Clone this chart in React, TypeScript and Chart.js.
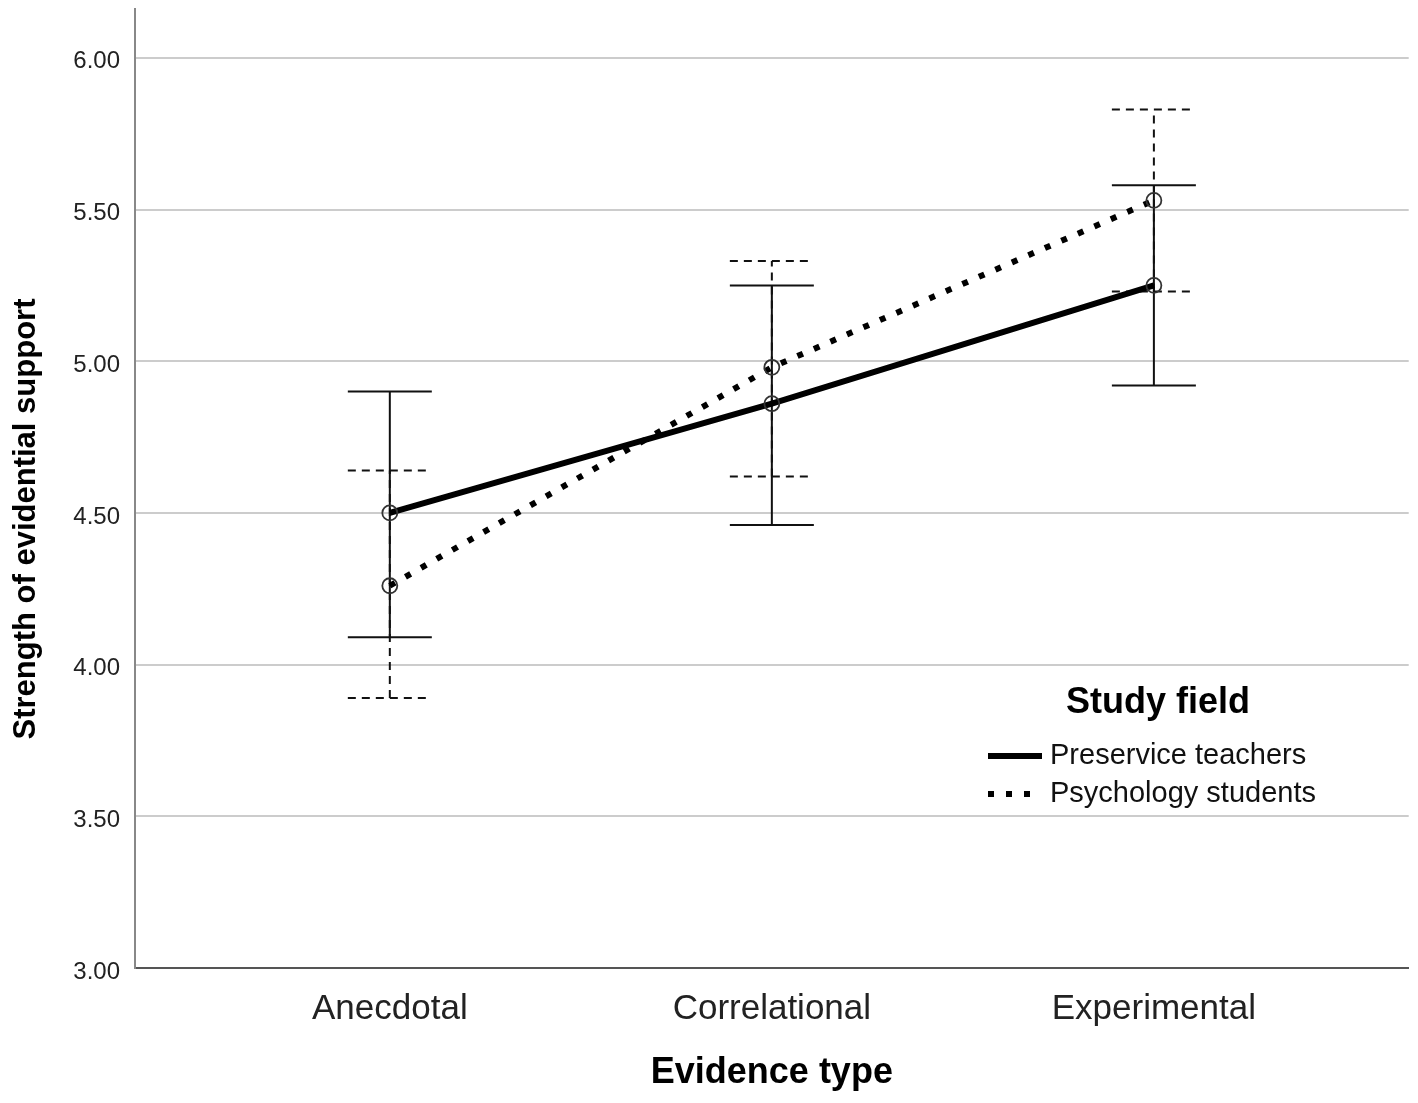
import React, { useEffect, useRef } from "react";
import { Chart, registerables } from "chart.js";

Chart.register(...registerables);

const categories = ["Anecdotal", "Correlational", "Experimental"];
const seriesLabels = ["Preservice teachers", "Psychology students"];
const teacherMeans = [4.5, 4.86, 5.25];
const teacherLower = [4.09, 4.46, 4.92];
const teacherUpper = [4.9, 5.25, 5.58];
const psychMeans = [4.26, 4.98, 5.53];
const psychLower = [3.89, 4.62, 5.23];
const psychUpper = [4.64, 5.33, 5.83];
const yTickValues = [3.0, 3.5, 4.0, 4.5, 5.0, 5.5, 6.0];
const yTitle = "Strength of evidential support";
const xTitle = "Evidence type";
const legendTitle = "Study field";

const FONT = "'Liberation Sans', Arial, sans-serif";

const errorBarPlugin = {
  id: "errorBars",
  beforeDatasetsDraw(chart: any) {
    const { ctx, scales } = chart;
    const xs = scales.x;
    const ys = scales.y;
    chart.data.datasets.forEach((ds: any) => {
      const lo: number[] = ds.ciLower;
      const hi: number[] = ds.ciUpper;
      ctx.save();
      ctx.strokeStyle = "#111";
      ctx.lineWidth = 2;
      ctx.setLineDash(ds.ciDash || []);
      ctx.lineCap = "butt";
      ds.data.forEach((pt: any, i: number) => {
        const x = xs.getPixelForValue(pt.x);
        const yl = ys.getPixelForValue(lo[i]);
        const yh = ys.getPixelForValue(hi[i]);
        const half = 42;
        ctx.beginPath();
        ctx.moveTo(x, yl);
        ctx.lineTo(x, yh);
        ctx.moveTo(x - half, yl);
        ctx.lineTo(x + half, yl);
        ctx.moveTo(x - half, yh);
        ctx.lineTo(x + half, yh);
        ctx.stroke();
      });
      ctx.restore();
    });
  },
};

const extrasPlugin = {
  id: "extras",
  afterDraw(chart: any) {
    const { ctx } = chart;
    ctx.save();
    // y axis title
    ctx.fillStyle = "#000";
    ctx.font = `bold 31px ${FONT}`;
    ctx.textAlign = "center";
    ctx.textBaseline = "middle";
    ctx.translate(26, 519);
    ctx.rotate(-Math.PI / 2);
    ctx.fillText(yTitle, 0, 0);
    ctx.restore();

    // legend
    ctx.save();
    ctx.fillStyle = "#000";
    ctx.font = `bold 36px ${FONT}`;
    ctx.textAlign = "center";
    ctx.textBaseline = "middle";
    ctx.fillText(legendTitle, 1158, 703);
    ctx.font = `29px ${FONT}`;
    ctx.textAlign = "left";
    chart.data.datasets.forEach((ds: any, i: number) => {
      const y = 756 + i * 38;
      ctx.save();
      ctx.strokeStyle = "#000";
      ctx.lineWidth = ds.borderWidth;
      ctx.setLineDash(ds.borderDash || []);
      ctx.beginPath();
      ctx.moveTo(988, y);
      ctx.lineTo(1042, y);
      ctx.stroke();
      ctx.restore();
      ctx.fillStyle = "#111";
      ctx.fillText(ds.label, 1050, y);
    });
    ctx.restore();
  },
};

export default function App() {
  const ref = useRef<HTMLCanvasElement>(null);
  useEffect(() => {
    document.body.style.margin = "0";
    const canvas = ref.current!;
    const chart = new Chart(canvas, {
      type: "line",
      data: {
        datasets: [
          {
            label: seriesLabels[0],
            data: teacherMeans.map((v, i) => ({ x: i, y: v })),
            borderColor: "#000",
            borderWidth: 6,
            pointRadius: 7.5,
            pointBorderWidth: 1.8,
            pointBorderColor: "#333",
            pointBackgroundColor: "rgba(0,0,0,0)",
            pointStyle: "circle",
            fill: false,
            ciLower: teacherLower,
            ciUpper: teacherUpper,
            ciDash: [],
          } as any,
          {
            label: seriesLabels[1],
            data: psychMeans.map((v, i) => ({ x: i, y: v })),
            borderColor: "#000",
            borderWidth: 6,
            borderDash: [6, 12],
            pointRadius: 7.5,
            pointBorderWidth: 1.8,
            pointBorderColor: "#333",
            pointBackgroundColor: "rgba(0,0,0,0)",
            pointStyle: "circle",
            fill: false,
            ciLower: psychLower,
            ciUpper: psychUpper,
            ciDash: [8, 6],
          } as any,
        ],
      },
      options: {
        responsive: false,
        animation: false,
        devicePixelRatio: 1,
        layout: { padding: { top: 9, right: 8, left: 0, bottom: 0 } },
        plugins: {
          legend: { display: false },
          tooltip: { enabled: false },
          title: { display: false },
        },
        scales: {
          x: {
            type: "linear",
            min: -0.667,
            max: 2.667,
            afterBuildTicks: (scale: any) => {
              scale.ticks = categories.map((_, i) => ({ value: i }));
            },
            afterFit: (scale: any) => {
              scale.height = 135;
              scale.paddingLeft = 0;
              scale.paddingRight = 0;
            },
            grid: { display: false, drawTicks: false },
            border: { display: true, color: "#555", width: 2 },
            ticks: {
              padding: 20,
              color: "#222",
              font: { family: FONT, size: 35 },
              callback: (v: any) => categories[Math.round(Number(v))] ?? "",
              maxRotation: 0,
              autoSkip: false,
            },
            title: {
              display: true,
              text: xTitle,
              color: "#000",
              font: { family: FONT, size: 36, weight: "bold" },
              padding: { top: 0, bottom: 8 },
            },
          },
          y: {
            type: "linear",
            min: 3,
            max: 6.16,
            afterBuildTicks: (scale: any) => {
              scale.ticks = yTickValues.map((v) => ({ value: v }));
            },
            afterFit: (scale: any) => {
              scale.width = 135;
              scale.paddingTop = 0;
              scale.paddingBottom = 0;
            },
            grid: { color: "#cccccc", lineWidth: 2, drawTicks: false },
            border: { display: true, color: "#888", width: 2 },
            ticks: {
              padding: 15,
              labelOffset: 4,
              color: "#222",
              font: { family: FONT, size: 24 },
              callback: (v: any) => Number(v).toFixed(2),
            },
          },
        },
      },
      plugins: [errorBarPlugin, extrasPlugin],
    } as any);
    return () => chart.destroy();
  }, []);
  return (
    <div style={{ width: 1418, height: 1103, background: "#fff" }}>
      <canvas ref={ref} width={1418} height={1103} style={{ display: "block" }} />
    </div>
  );
}
